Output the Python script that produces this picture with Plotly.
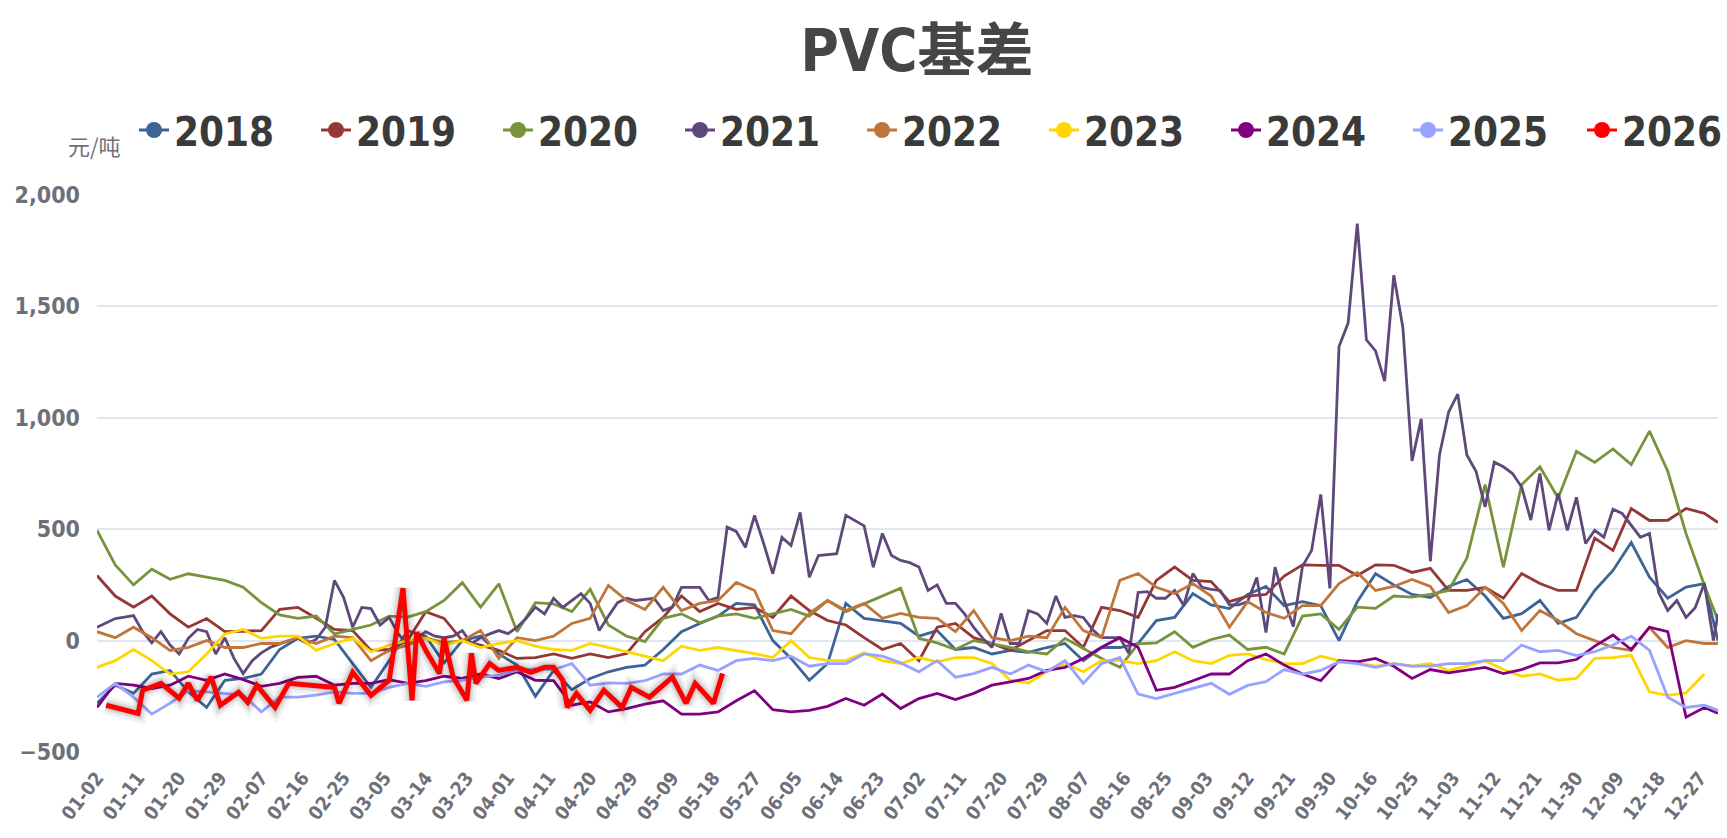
import plotly.graph_objects as go

# ---------------- categories (MM-DD trading days, union over years) ----------------
MONTH_DAYS = [31, 29, 31, 30, 31, 30, 31, 31, 30, 31, 30, 31]
NO_TRADE = {"01-01", "04-05", "05-01", "10-01", "10-02", "10-03", "10-04",
            "10-05", "10-06", "10-07"}
categories = [f"{m:02d}-{d:02d}" for m in range(1, 13)
              for d in range(1, MONTH_DAYS[m - 1] + 1)
              if f"{m:02d}-{d:02d}" not in NO_TRADE]

# sample dates used by the series
dates_4 = categories[::4] + [categories[-1]]
dates_2 = categories[::2] + [categories[-1]]

years = ["2018", "2019", "2020", "2021", "2022", "2023", "2024", "2025", "2026"]
colors = ["#3C6496", "#953735", "#77933C", "#5F497A", "#C0763A",
          "#FFD700", "#800080", "#99A3FF", "#FF0000"]

v2018 = [-281, -200, -237, -150, -134, -230, -300, -178, -170, -150,
         -40, 10, 20, 5, -103, -210, -90, 45, 20, -100,
         0, 20, -60, -110, -250, -134, -220, -170, -140, -120,
         -110, -40, 40, 77, 110, 167, 160, 0, -80, -178,
         -103, 167, 100, 90, 77, 20, 45, -40, -31, -60,
         -44, -53, -31, -13, -90, -31, -31, -13, 90, 104,
         211, 160, 144, 207, 243, 157, 175, 157, 0, 175,
         300, 250, 207, 193, 243, 274, 200, 100, 121, 180,
         77, 104, 225, 315, 440, 285, 190, 240, 256, 0]

v2019 = [292, 200, 150, 200, 120, 60, 99, 40, 42, 45,
         140, 149, 100, 50, 45, -44, -40, 0, 130, 100,
         0, -20, -44, -80, -76, -60, -80, -60, -76, -58,
         40, 104, 200, 130, 167, 140, 149, 104, 200, 135,
         90, 70, 13, -40, -13, -90, 60, 77, 13, -13,
         -44, 0, 45, 45, -31, 149, 135, 104, 270, 330,
         270, 265, 175, 200, 207, 290, 340, 338, 338, 292,
         340, 338, 306, 324, 225, 225, 239, 190, 301, 256,
         225, 225, 460, 405, 593, 539, 540, 593, 571, 530]

v2020 = [495, 340, 250, 320, 275, 300, 285, 270, 240, 170,
         115, 100, 110, 30, 50, 70, 110, 105, 130, 180,
         260, 150, 255, 40, 170, 165, 130, 230, 70, 20,
         -5, 100, 120, 80, 110, 120, 100, 120, 140, 110,
         180, 130, 165, 200, 235, 10, -10, -40, 0, -15,
         -30, -50, -60, 10, -35, -80, -120, -15, -10, 40,
         -30, 5, 25, -40, -30, -60, 110, 120, 50, 150,
         145, 200, 195, 207, 225, 370, 700, 330, 700, 780,
         640, 850, 800, 860, 790, 940, 760, 480, 250, 90]

v2021 = [60, 80, 99, 105, 112, 40, -10, 40, -20, -60,
         10, 50, 40, -60, 13, -80, -148, -90, -55, -30,
         -15, 0, 10, -13, 5, 60, 270, 194, 60, 149,
         144, 70, 104, 30, -20, 10, 40, 20, 13, 20,
         45, -13, 13, 30, 45, 31, 60, 100, 150, 120,
         190, 149, 180, 211, 167, 45, 110, 170, 190, 180,
         185, 190, 135, 150, 239, 239, 239, 180, 194, 509,
         490, 419, 562, 436, 300, 463, 427, 575, 284, 382,
         385, 390, 562, 539, 515, 329, 481, 382, 360, 350,
         330, 225, 250, 167, 167, 120, 59, 10, -31, 122,
         -13, -13, 135, 120, 77, 200, 104, 112, 104, 50,
         13, 13, 13, -58, 216, 220, 190, 190, 225, 158,
         301, 239, 230, 225, 160, 160, 175, 283, 36, 330,
         180, 63, 333, 405, 656, 234, 1320, 1425, 1872, 1350,
         1300, 1165, 1640, 1403, 806, 995, 356, 833, 1025, 1106,
         833, 760, 600, 801, 780, 750, 689, 541, 750, 495,
         661, 495, 643, 436, 495, 464, 590, 571, 520, 464,
         481, 216, 135, 180, 104, 148, 256, 0, 121]

v2022 = [40, 13, 60, 13, -44, -30, 0, -31, -31, -13,
         -13, 13, -13, 20, 13, -90, -44, -20, 13, -10,
         0, 45, -80, 13, 0, 20, 77, 100, 248, 180,
         140, 239, 135, 167, 180, 261, 225, 45, 31, 122,
         180, 135, 167, 100, 122, 104, 100, 40, 135, 13,
         0, 20, 13, 149, 45, 13, 270, 301, 239, 211,
         256, 200, 60, 175, 126, 100, 157, 157, 256, 306,
         225, 243, 274, 243, 126, 157, 239, 167, 45, 135,
         90, 31, 0, -31, -44, 59, -31, 0, -13, -13]

v2023 = [-120, -90, -40, -90, -150, -140, -60, 30, 50, 10,
         20, 20, -44, -13, 10, -50, -20, 0, 10, -20,
         0, -31, -13, 0, -25, -40, -44, -13, -30, -50,
         -70, -90, -25, -44, -31, -44, -58, -76, 0, -76,
         -90, -90, -55, -90, -103, -76, -95, -76, -76, -103,
         -178, -190, -140, -103, -140, -90, -90, -103, -90, -50,
         -90, -103, -66, -60, -85, -103, -103, -70, -90, -100,
         -115, -103, -115, -103, -134, -115, -90, -130, -160, -150,
         -178, -170, -80, -76, -66, -230, -246, -235, -150]

v2024 = [-300, -192, -200, -215, -200, -160, -178, -150, -175, -205,
         -192, -165, -160, -200, -192, -192, -175, -192, -180, -160,
         -170, -150, -170, -140, -178, -180, -290, -275, -320, -305,
         -285, -270, -330, -330, -320, -270, -225, -310, -320, -313,
         -295, -260, -290, -240, -305, -260, -237, -265, -237, -200,
         -185, -170, -134, -120, -80, -30, 13, -30, -223, -210,
         -180, -150, -150, -90, -60, -110, -150, -180, -90, -95,
         -80, -115, -170, -130, -145, -134, -120, -148, -130, -100,
         -100, -85, -25, 25, -40, 60, 40, -344, -300, -326]

v2025 = [-254, -192, -254, -330, -281, -225, -230, -237, -245, -320,
         -254, -254, -245, -230, -237, -237, -210, -192, -205, -185,
         -178, -164, -155, -134, -127, -130, -103, -200, -190, -192,
         -180, -150, -150, -110, -134, -90, -80, -90, -70, -115,
         -103, -103, -60, -70, -100, -140, -90, -164, -148, -120,
         -150, -110, -140, -90, -192, -103, -76, -240, -260, -237,
         -215, -192, -241, -201, -184, -130, -151, -134, -95, -103,
         -120, -103, -115, -115, -103, -103, -90, -90, -20, -50,
         -44, -67, -50, -20, 20, -44, -254, -300, -290, -313]

dates_2026 = ["01-04", "01-11", "01-12", "01-16", "01-20", "01-22", "01-24",
              "01-27", "01-29", "02-02", "02-04", "02-06", "02-10", "02-13",
              "02-23", "02-24", "02-27", "03-02", "03-06", "03-09", "03-11",
              "03-12", "03-14", "03-17", "03-18", "03-20", "03-23", "03-24",
              "03-25", "03-28", "03-30", "04-03", "04-07", "04-10", "04-12",
              "04-14", "04-15", "04-17", "04-20", "04-23", "04-27", "04-29",
              "05-04", "05-09", "05-12", "05-14", "05-18", "05-20"]
v2026 = [-290, -327, -223, -192, -259, -192, -268,
         -164, -290, -232, -277, -201, -300, -192,
         -210, -281, -142, -246, -178, 235, -268,
         37, -44, -148, 10, -164, -268, -57,
         -192, -103, -134, -120, -142, -120, -120,
         -178, -300, -237, -313, -223, -300, -210,
         -254, -164, -281, -192, -281, -148]

tick_labels = categories[::9]

series = {
    "2018": (dates_4, v2018), "2019": (dates_4, v2019), "2020": (dates_4, v2020),
    "2021": (dates_2, v2021), "2022": (dates_4, v2022), "2023": (dates_4, v2023),
    "2024": (dates_4, v2024), "2025": (dates_4, v2025), "2026": (dates_2026, v2026),
}

FONT_TXT = "DejaVu Sans Condensed, Liberation Sans Narrow, Noto Sans CJK SC, sans-serif"
GREY = "#6E7079"
W, H = 1727, 838

fig = go.Figure()

for yr, col in zip(years, colors):
    xs, ys = series[yr]
    n = min(len(xs), len(ys))
    if yr == "2026":
        for w, a in [(18, 0.05), (12, 0.07), (8, 0.08)]:
            fig.add_trace(go.Scatter(x=xs[:n], y=ys[:n], mode="lines",
                                     line=dict(color=f"rgba(0,0,0,{a})", width=w),
                                     hoverinfo="skip", showlegend=False))
        lw = 5
    else:
        lw = 2.8
    fig.add_trace(go.Scatter(x=xs[:n], y=ys[:n], mode="lines", name=yr,
                             line=dict(color=col, width=lw),
                             showlegend=False, legendgroup=yr))

# legend entries (line + circle marker); last one in a second legend box
for idx, (yr, col) in enumerate(zip(years, colors)):
    fig.add_trace(go.Scatter(x=[None], y=[None], mode="lines+markers", name=yr,
                             line=dict(color=col, width=3),
                             marker=dict(color=col, size=16),
                             legendgroup=yr, showlegend=True,
                             legend="legend2" if yr == "2026" else "legend"))

ENTRY_W = 137
LEG_X0 = 134
leg_font = dict(family=FONT_TXT, size=40, color="#3A3A3A", weight="bold")
n_cat = len(categories)
fig.update_layout(
    width=W, height=H,
    margin=dict(l=97, r=9, t=195, b=86, autoexpand=False),
    paper_bgcolor="white", plot_bgcolor="white",
    title=dict(text="PVC基差", x=0.531, xanchor="center", y=0.94, yanchor="middle",
               font=dict(family=FONT_TXT, size=58, color="#464646", weight="bold")),
    legend=dict(orientation="h", xref="container", x=LEG_X0 / W, xanchor="left",
                y=1 - 130 / H, yref="container", yanchor="middle",
                font=leg_font, entrywidth=ENTRY_W, entrywidthmode="pixels",
                itemsizing="trace", bgcolor="rgba(0,0,0,0)", tracegroupgap=0),
    legend2=dict(orientation="h", xref="container",
                 x=(LEG_X0 + 8 * (ENTRY_W + 44)) / W, xanchor="left",
                 y=1 - 130 / H, yref="container", yanchor="middle",
                 font=leg_font, itemsizing="trace", bgcolor="rgba(0,0,0,0)"),
    xaxis=dict(type="category", categoryorder="array", categoryarray=categories,
               range=[0, n_cat - 1], showgrid=False, showline=False, zeroline=False,
               ticks="", tickmode="array", tickvals=tick_labels, ticktext=tick_labels,
               tickangle=-52, ticklabelstandoff=10,
               tickfont=dict(family=FONT_TXT, size=19, color=GREY, weight="bold")),
    xaxis2=dict(overlaying="x", anchor="free", position=0.2, type="linear",
                range=[0, n_cat - 1], showline=True, linecolor=GREY, linewidth=2,
                ticks="outside", ticklen=6, tickwidth=1.5, tickcolor=GREY,
                tickmode="array", tickvals=list(range(0, n_cat, 9)),
                showticklabels=False, showgrid=False, zeroline=False,
                layer="below traces"),
    yaxis=dict(range=[-500, 2000], tickvals=[-500, 0, 500, 1000, 1500, 2000],
               tickformat=",", showgrid=True, gridcolor="#E0E6F1", gridwidth=2,
               zeroline=False, showline=False, ticks="", ticklabelstandoff=16,
               tickfont=dict(family=FONT_TXT, size=23, color=GREY, weight="bold")),
    showlegend=True,
)

fig.add_annotation(text="元/吨", xref="paper", yref="paper", x=-0.019, y=1.09,
                   xanchor="left", yanchor="middle", showarrow=False,
                   font=dict(family="Noto Sans CJK SC, sans-serif", size=22, color=GREY))

fig.write_html("out.html", config={"displayModeBar": False},
               post_script="document.body.style.margin='0';")
